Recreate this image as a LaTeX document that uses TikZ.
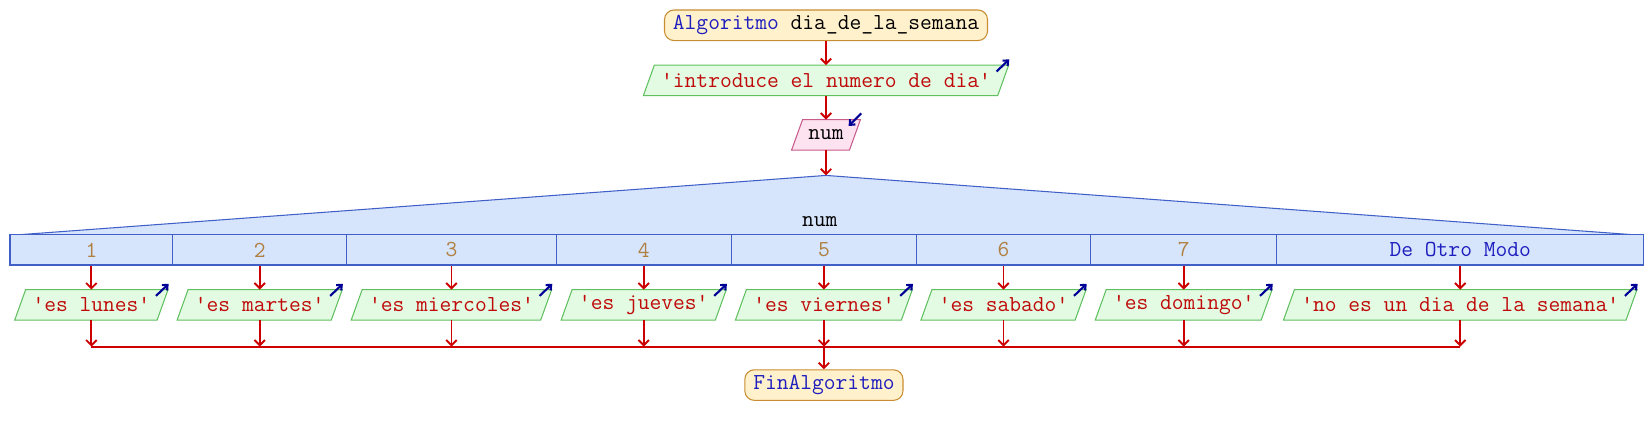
\documentclass[tikz,border=0pt]{standalone}
\usepackage{fontspec}
\usetikzlibrary{arrows.meta,backgrounds}
\definecolor{termF}{RGB}{255,241,204}
\definecolor{termB}{RGB}{200,140,50}
\definecolor{outF}{RGB}{226,251,226}
\definecolor{outB}{RGB}{96,192,96}
\definecolor{inF}{RGB}{253,226,240}
\definecolor{inB}{RGB}{200,90,140}
\definecolor{swF}{RGB}{214,228,252}
\definecolor{swB}{RGB}{64,96,200}
\definecolor{numC}{RGB}{176,128,64}
\definecolor{kwB}{RGB}{30,30,190}
\definecolor{strR}{RGB}{192,10,10}
\definecolor{navy}{RGB}{0,0,150}
\definecolor{flowR}{RGB}{204,0,0}
\tikzset{
  base/.style={font=\ttfamily\fontsize{21.7}{24}\selectfont, inner ysep=0pt},
  term/.style={base, draw=termB, fill=termF, rounded corners=9pt, line width=1pt, minimum height=29pt, inner xsep=8pt, text=kwB},
  iotxt/.style={base, minimum height=28.5pt, inner xsep=11.5pt},
  cell/.style={base, draw=swB, fill=swF, line width=1pt, minimum height=28.5pt, inner xsep=0pt, text=numC, anchor=center},
  flow/.style={draw=flowR, line width=1.8pt, -{Straight Barb[length=5pt,width=10pt]}},
  flowline/.style={draw=flowR, line width=1.8pt},
  icon/.style={draw=navy, line width=2pt, -{Straight Barb[length=4pt,width=7pt]}},
  outshape/.style={draw=outB, fill=outF, line width=1pt},
  inshape/.style={draw=inB, fill=inF, line width=1pt},
}
\newcommand\pgmshape[2]{%
  \begin{pgfonlayer}{background}
  \path[#1] ([xshift=-5.2pt]#2.south west) -- ([xshift=5.2pt]#2.north west) -- ([xshift=5.2pt]#2.north east) -- ([xshift=-5.2pt]#2.south east) -- cycle;
  \end{pgfonlayer}}
\newcommand\outicon[1]{\draw[icon] ([xshift=-6.3pt,yshift=-6pt]#1.north east) -- ([xshift=5.8pt,yshift=5.5pt]#1.north east);}
\begin{document}
\begin{tikzpicture}[x=1pt,y=-1pt]
\useasboundingbox (0,0) rectangle (1568,413);
% start
\node[term] (start) at (784,24) {Algoritmo \textcolor{black}{dia\_de\_la\_semana}};
% input prompt
\node[iotxt, text=strR] (intro) at (784,76.3) {'introduce el numero de dia'};
\pgmshape{outshape}{intro}
\outicon{intro}
% read num
\node[iotxt, inner xsep=10.5pt] (inp) at (784,128) {num};
\pgmshape{inshape}{inp}
\draw[icon] ([xshift=6pt,yshift=6pt]inp.north east) -- ([xshift=-6pt,yshift=-6pt]inp.north east);
% switch triangle
\coordinate (apex) at (784,166.5);
\fill[swF] (15,223) -- (apex) -- (1553,223) -- cycle;
\draw[swB, line width=1pt] (15,223) -- (apex) -- (1553,223);
\node[base] (sel) at (778,210) {num};
% cells
\node[cell, minimum width=154.5pt] (c1) at (86.75,237.25) {1};
\node[cell, minimum width=165pt] (c2) at (246.5,237.25) {2};
\node[cell, minimum width=199pt] (c3) at (428.5,237.25) {3};
\node[cell, minimum width=166pt] (c4) at (611,237.25) {4};
\node[cell, minimum width=176pt] (c5) at (782,237.25) {5};
\node[cell, minimum width=165pt] (c6) at (952.5,237.25) {6};
\node[cell, minimum width=177pt] (c7) at (1123.5,237.25) {7};
\node[cell, minimum width=348pt, text=kwB] (c8) at (1386,237.25) {De Otro Modo};
% outputs
\node[iotxt, text=strR] (o1) at (86.75,289.3) {'es lunes'};
\node[iotxt, text=strR] (o2) at (246.5,289.3) {'es martes'};
\node[iotxt, text=strR] (o3) at (428.5,289.3) {'es miercoles'};
\node[iotxt, text=strR] (o4) at (611,289.3) {'es jueves'};
\node[iotxt, text=strR] (o5) at (782,289.3) {'es viernes'};
\node[iotxt, text=strR] (o6) at (952.5,289.3) {'es sabado'};
\node[iotxt, text=strR] (o7) at (1123.5,289.3) {'es domingo'};
\node[iotxt, text=strR] (o8) at (1386,289.3) {'no es un dia de la semana'};
\foreach \i in {1,...,8}{
  \pgmshape{outshape}{o\i}
  \outicon{o\i}
  \draw[flow] (c\i.south) -- (o\i.north);
  \coordinate (m\i) at (o\i.south |- 0,329);
  \draw[flow] (o\i.south) -- (m\i);
}
\draw[flowline] (m1) -- (m8);
% end
\node[term] (end) at (782,365.5) {FinAlgoritmo};
% main flow
\draw[flow] (start.south) -- (intro.north);
\draw[flow] (intro.south) -- (inp.north);
\draw[flow] (inp.south) -- (apex);
\draw[flow] (m5) -- (end.north);
\end{tikzpicture}
\end{document}
